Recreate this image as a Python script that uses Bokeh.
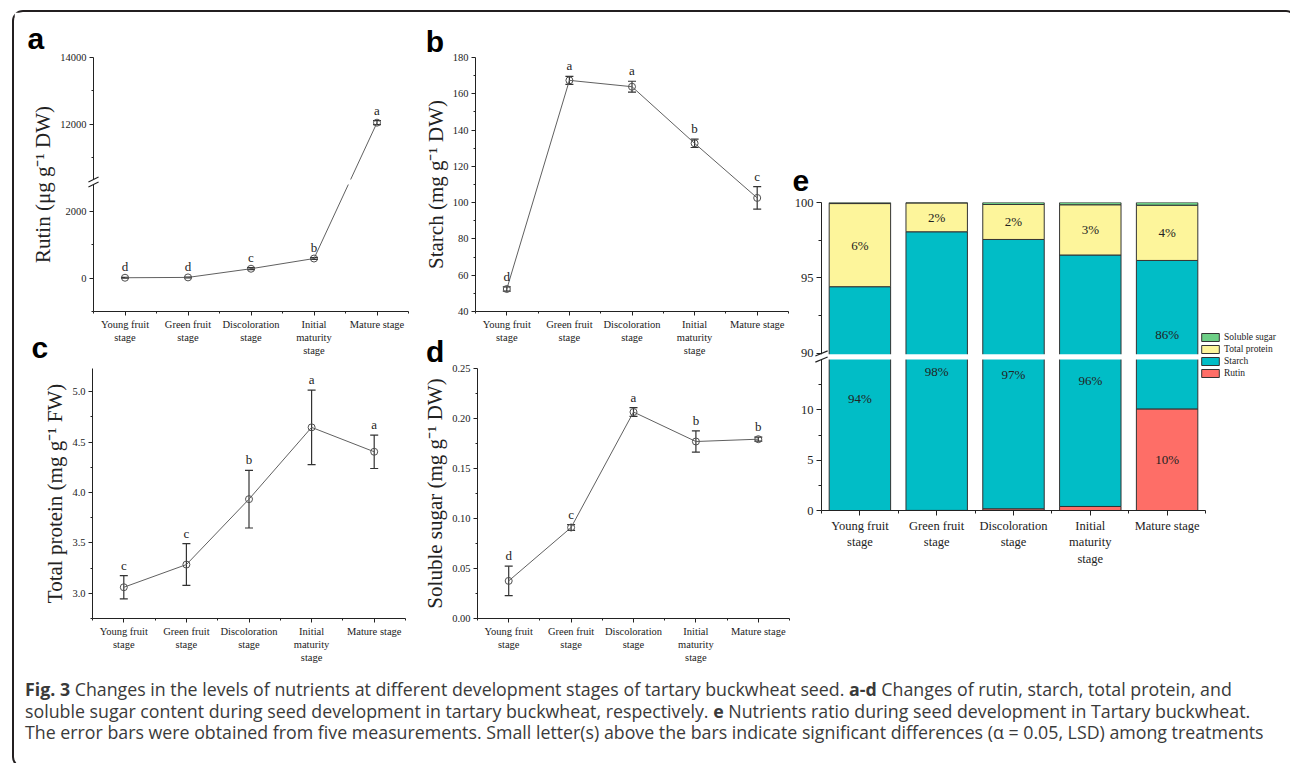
from bokeh.plotting import figure
from bokeh.layouts import row, column
from bokeh.models import (ColumnDataSource, Range1d, FixedTicker, Whisker, TeeHead,
                          Legend, LegendItem, Div, PrintfTickFormatter)
from bokeh.core.properties import value
from bokeh.embed import file_html
from bokeh.resources import INLINE

# ---------------- data ----------------
stages = ["Young fruit\nstage", "Green fruit\nstage", "Discoloration\nstage",
          "Initial\nmaturity\nstage", "Mature stage"]

rutin = [10, 20, 280, 585, 12050]
rutin_err = [10, 12, 30, 25, 60]
rutin_sig = ["d", "d", "c", "b", "a"]

starch = [52.4, 167.4, 163.9, 132.7, 102.6]
starch_err = [1.2, 2.2, 3.0, 2.3, 6.2]
starch_sig = ["d", "a", "a", "b", "c"]

protein = [3.06, 3.285, 3.934, 4.646, 4.404]
protein_err = [0.116, 0.207, 0.286, 0.370, 0.166]
protein_sig = ["c", "c", "b", "a", "a"]

sugar = [0.0376, 0.0910, 0.2065, 0.1770, 0.1793]
sugar_err = [0.0147, 0.0028, 0.0044, 0.0106, 0.0020]
sugar_sig = ["d", "c", "a", "b", "b"]

ratio_rutin = [0.0, 0.01, 0.17, 0.40, 10.10]
ratio_starch = [94.42, 98.05, 97.38, 96.12, 86.06]
ratio_protein = [5.51, 1.91, 2.32, 3.33, 3.66]
ratio_sugar = [0.07, 0.03, 0.13, 0.15, 0.18]

ratio_names = ["Rutin", "Starch", "Total protein", "Soluble sugar"]
ratio_colors = ["#fe6e67", "#01bdc6", "#fdf59b", "#6dcf86"]

caption_lines = [
    "<b>Fig. 3</b> Changes in the levels of nutrients at different development stages of tartary buckwheat seed. "
    "<b>a-d</b> Changes of rutin, starch, total protein, and",
    "soluble sugar content during seed development in tartary buckwheat, respectively. "
    "<b>e</b> Nutrients ratio during seed development in Tartary buckwheat.",
    "The error bars were obtained from five measurements. Small letter(s) above the bars indicate "
    "significant differences (\u03b1 = 0.05, LSD) among treatments",
]

# ---------------- styling helpers ----------------
SERIF = "Liberation Serif"
INK = "#222222"
LINE = "#606060"
ERR = "#333333"
XS = list(range(1, len(stages) + 1))
OVERLAP = 30   # lower row of panels overlaps the upper row's (transparent) margins


def make_fig(canvas, frame, xr, yr, transparent=False):
    cx, cy, cw, ch = canvas
    fx, fy, fw, fh = frame
    p = figure(width=cw, height=ch, x_range=Range1d(*xr), y_range=Range1d(*yr),
               min_border_left=fx - cx, min_border_right=cx + cw - fx - fw,
               min_border_top=fy - cy, min_border_bottom=cy + ch - fy - fh,
               output_backend="svg", toolbar_location=None)
    p.outline_line_color = None
    p.xgrid.visible = False
    p.ygrid.visible = False
    p.border_fill_color = None if transparent else "white"
    p.background_fill_color = "white"

    def conv(px, py):
        return (xr[0] + (px - fx) / fw * (xr[1] - xr[0]),
                yr[1] - (py - fy) / fh * (yr[1] - yr[0]))
    return p, conv


def style_axis(ax, fs, tick_out=4, minor_out=2):
    ax.axis_line_color = INK
    ax.axis_line_width = 1
    ax.major_tick_line_color = INK
    ax.minor_tick_line_color = INK
    ax.major_tick_in = 0
    ax.major_tick_out = tick_out
    ax.minor_tick_in = 0
    ax.minor_tick_out = minor_out
    ax.major_label_text_font = SERIF
    ax.major_label_text_font_size = fs
    ax.major_label_text_color = INK
    ax.major_label_standoff = 3
    ax.axis_label_text_font = SERIF
    ax.axis_label_text_font_style = "normal"
    ax.axis_label_text_color = INK
    ax.axis_label_text_font_size = "21px"
    ax.axis_label_standoff = 2


def letter(p, conv, ch, px, py_baseline):
    # glyph placed by its vertical middle (about 10px above the baseline at 30px)
    x, y = conv(px, py_baseline - 10)
    p.text(x=[x], y=[y], text=[ch], text_font=value("Liberation Sans"), text_font_style="bold",
           text_font_size="30px", text_color="#000000", text_baseline="middle",
           text_align="left", level="overlay")


def line_panel(canvas, frame, yr, vals, errs, sig, ylabel, major, minor, overrides,
               fmt=None, tf=lambda v: v, transparent=False):
    p, conv = make_fig(canvas, frame, (0.5, 5.5), yr, transparent)
    src = ColumnDataSource(dict(
        x=XS, y=[tf(v) for v in vals],
        lo=[tf(v - e) for v, e in zip(vals, errs)],
        hi=[tf(v + e) for v, e in zip(vals, errs)],
        sig=sig))
    p.add_layout(Whisker(base="x", lower="lo", upper="hi", source=src,
                         line_color=ERR, line_width=1.2,
                         upper_head=TeeHead(size=8, line_color=ERR, line_width=1.2),
                         lower_head=TeeHead(size=8, line_color=ERR, line_width=1.2)))
    p.line("x", "y", source=src, line_color=LINE, line_width=1)
    p.scatter("x", "y", source=src, marker="circle", size=7, fill_color=None,
              line_color="#505050", line_width=1)
    p.text("x", "hi", text="sig", source=src, text_align="center", text_baseline="bottom",
           y_offset=-3, text_font=value(SERIF), text_font_size="13px", text_color=INK)
    p.xaxis.ticker = FixedTicker(ticks=XS, minor_ticks=[i + 0.5 for i in range(0, len(XS) + 1)])
    p.xaxis.major_label_overrides = {x: s for x, s in zip(XS, stages)}
    p.yaxis.ticker = FixedTicker(ticks=major, minor_ticks=minor)
    if fmt:
        p.yaxis.formatter = PrintfTickFormatter(format=fmt)
    if overrides:
        p.yaxis.major_label_overrides = overrides
    p.yaxis.axis_label = ylabel
    for ax in p.axis:
        style_axis(ax, "10.5px")
    return p, conv


# ---------------- panel a (broken axis) ----------------
A_LOW_TOP = 2800      # top of lower segment
A_SHIFT = 7400        # upper segment shifted down by this amount


def ta(v):
    return v if v < 5000 else v - A_SHIFT


pa, ca = line_panel((14, 12, 406, 346), (93, 57, 315, 255), (-1000, ta(14000)),
                    rutin, rutin_err, rutin_sig, "Rutin (\u03bcg g\u207b\u00b9 DW)",
                    [0, 2000, ta(12000), ta(14000)],
                    [-1000, 1000, ta(11000), ta(13000)],
                    {ta(12000): "12000", ta(14000): "14000"}, tf=ta)
pa.quad(left=[0.45], right=[5.5], bottom=[A_LOW_TOP], top=[A_LOW_TOP + 150],
        fill_color="white", line_color=None, level="overlay")
pa.segment(x0=[0.42, 0.42], y0=[A_LOW_TOP - 75, A_LOW_TOP + 75],
           x1=[0.58, 0.58], y1=[A_LOW_TOP + 75, A_LOW_TOP + 225],
           line_color=INK, line_width=1.1, level="overlay")
letter(pa, ca, "a", 27, 48)

# ---------------- panel b ----------------
pb, cb = line_panel((420, 12, 370, 346), (473, 56, 315, 255), (40, 180),
                    starch, starch_err, starch_sig, "Starch (mg g\u207b\u00b9 DW)",
                    list(range(40, 181, 20)), list(range(50, 180, 20)), None)
letter(pb, cb, "b", 423, 50)

# ---------------- panel c ----------------
pc, cc = line_panel((14, 358 - OVERLAP, 406, 307 + OVERLAP), (92, 368, 313, 250), (2.75, 5.23),
                    protein, protein_err, protein_sig, "Total protein (mg g\u207b\u00b9 FW)",
                    [3.0, 3.5, 4.0, 4.5, 5.0], [2.75, 3.25, 3.75, 4.25, 4.75], None,
                    fmt="%.1f", transparent=True)
letter(pc, cc, "c", 31, 357)

# ---------------- panel d ----------------
pd_, cd = line_panel((420, 358 - OVERLAP, 370, 307 + OVERLAP), (474, 364, 315, 255), (0, 0.25),
                     sugar, sugar_err, sugar_sig, "Soluble sugar (mg g\u207b\u00b9 DW)",
                     [0.0, 0.05, 0.10, 0.15, 0.20, 0.25],
                     [0.025, 0.075, 0.125, 0.175, 0.225], None, fmt="%.2f", transparent=True)
letter(pd_, cd, "d", 422, 357)

# ---------------- panel e (broken axis, stacked %) ----------------
E_LOW_TOP = 15.0
E_GAP = 0.62
E_HIGH_BOT = 90.0
E_HIGH_SCALE = 1.5


def te(v):
    return v if v <= E_LOW_TOP else E_LOW_TOP + E_GAP + (v - E_HIGH_BOT) * E_HIGH_SCALE


# frame widened to the canvas edge so the legend fits inside; the x axis is bounded to the bars
E_XMAX = 0.5 + 464 / 76.8
pe, ce = make_fig((790, 12, 495, 653), (821, 202, 464, 308), (0.5, E_XMAX), (0, te(100)))
comps = [ratio_rutin, ratio_starch, ratio_protein, ratio_sugar]
bottoms = [0.0] * len(XS)
renderers = []
label_x, label_y, label_t = [], [], []
for name, color, comp in zip(ratio_names, ratio_colors, comps):
    tops = [b + v for b, v in zip(bottoms, comp)]
    r = pe.vbar(x=XS, bottom=[te(b) for b in bottoms], top=[te(t) for t in tops], width=0.8,
                fill_color=color, line_color="#333333", line_width=1)
    renderers.append((name, r))
    if name in ("Starch", "Total protein", "Rutin"):
        for x, b, t, v in zip(XS, bottoms, tops, comp):
            if v >= 1:
                label_x.append(x)
                label_y.append((te(b) + te(t)) / 2)
                label_t.append(f"{round(v)}%")
    bottoms = tops

pe.text(x=label_x, y=label_y, text=label_t, text_align="center", text_baseline="middle",
        text_font=value(SERIF), text_font_size="13px", text_color=INK)

pe.quad(left=[0.45], right=[5.5], bottom=[te(E_LOW_TOP) + 0.02], top=[te(E_HIGH_BOT) - 0.08],
        fill_color="white", line_color=None, level="overlay")
pe.segment(x0=[0.42, 0.42], y0=[te(E_LOW_TOP) - 0.25, te(E_HIGH_BOT) - 0.25],
           x1=[0.58, 0.58], y1=[te(E_LOW_TOP) + 0.25, te(E_HIGH_BOT) + 0.25],
           line_color=INK, line_width=1.1, level="overlay")

e_major = [0, 5, 10, te(90), te(95), te(100)]
e_minor = [2.5, 7.5, 12.5, te(92.5), te(97.5)]
pe.yaxis.ticker = FixedTicker(ticks=e_major, minor_ticks=e_minor)
pe.yaxis.major_label_overrides = {te(90): "90", te(95): "95", te(100): "100"}
pe.xaxis.ticker = FixedTicker(ticks=XS, minor_ticks=[i + 0.5 for i in range(0, len(XS) + 1)])
pe.xaxis.major_label_overrides = {x: s for x, s in zip(XS, stages)}
pe.xaxis.bounds = (0.5, 5.5)
for ax in pe.axis:
    style_axis(ax, "12.5px", tick_out=5, minor_out=3)

legend = Legend(items=[LegendItem(label=n, renderers=[r]) for n, r in reversed(renderers)],
                location=(378, 132), orientation="vertical", padding=0, margin=0, spacing=2,
                glyph_width=22, glyph_height=10, label_height=10, label_standoff=3,
                label_text_font=SERIF, label_text_font_size="9.5px", label_text_color=INK,
                border_line_color=None, background_fill_alpha=0)
pe.add_layout(legend, "center")
letter(pe, ce, "e", 792, 190)

# ---------------- caption ----------------
cap = Div(text=('<div style="font-family:\'Open Sans\',sans-serif;font-size:17.8px;line-height:21.5px;'
                'color:#3a3a3a;white-space:nowrap;padding:9px 0 0 6px;">'
                + "<br>".join(caption_lines) + "</div>"),
          width=1271, height=91)

upper = row(pa, pb)
lower = row(pc, pd_, margin=(-OVERLAP, 0, 0, 0))
top = row(column(upper, lower), pe)
root = column(top, cap, margin=(10, 0, 0, 12),
              styles={"border": "2px solid #231f20", "border-radius": "11px"})

open("out.html", "w").write(file_html(root, INLINE))
